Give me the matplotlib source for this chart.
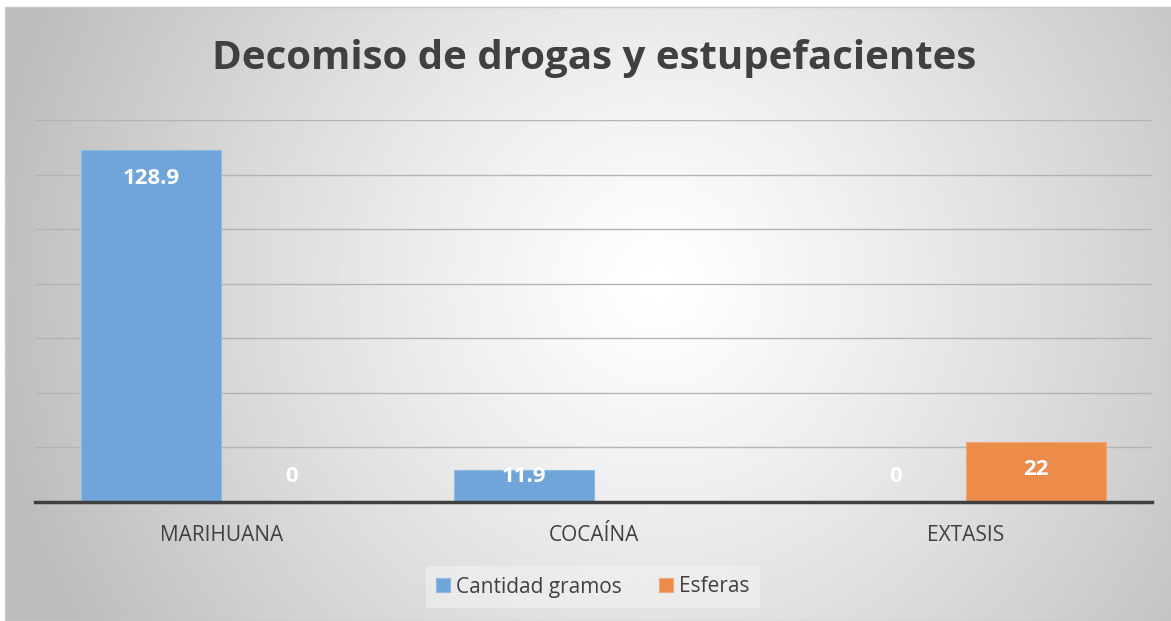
import numpy as np
import matplotlib.pyplot as plt
from matplotlib.patches import Rectangle

# datos del grafico
categorias = ['MARIHUANA', 'COCAÍNA', 'EXTASIS']
cantidad_gramos = [128.9, 11.9, 0]
esferas = [0, np.nan, 22]
series = ['Cantidad gramos', 'Esferas']

azul = '#6fa5d8'
naranja = '#ec8b4a'
gris_texto = '#404040'

plt.rcParams['font.family'] = ['Open Sans', 'DejaVu Sans']

fig = plt.figure(figsize=(11.71, 6.21), dpi=100)
W, H = 1171, 621

# fondo con degradado radial
bg = fig.add_axes([5 / W, 0, 1 - 5 / W, 1 - 7 / H], zorder=-10)
yy, xx = np.mgrid[0:1:300j, 0:1:560j]
d = np.sqrt(((xx - 0.56) * 1.9) ** 2 + ((yy - 0.55) * 1.0) ** 2)
val = 1 - 0.26 * np.clip(d / 1.1, 0, 1) ** 1.2
bg.imshow(val, cmap='gray', vmin=0, vmax=1, extent=[0, 1, 0, 1], aspect='auto', origin='lower')
bg.set_axis_off()
fig.add_artist(Rectangle((5 / W, 0), 1 - 5 / W, 1 - 7 / H, transform=fig.transFigure,
                         fill=False, edgecolor='#c8c8c8', lw=1))

ax = fig.add_axes([35 / W, (H - 502) / H, 1117 / W, 382 / H])
ax.patch.set_alpha(0)
x = np.arange(len(categorias))
w = 0.376
b1 = ax.bar(x - w / 2, cantidad_gramos, w, color=azul, edgecolor='#8dbbe6', lw=0.8, label=series[0], zorder=2)
b2 = ax.bar(x + w / 2, esferas, w, color=naranja, edgecolor='#f2a877', lw=0.8, label=series[1], zorder=2)

ax.set_xlim(-0.5, 2.5)
ax.set_ylim(0, 140)
ax.set_yticks(np.arange(0, 141, 20))
ax.yaxis.grid(True, color='#b4b4b4', lw=1)
ax.set_axisbelow(True)
ax.tick_params(axis='y', left=False, labelleft=False)
ax.tick_params(axis='x', bottom=False, pad=13)
ax.set_xticks(x)
ax.set_xticklabels(categorias, fontsize=15, color=gris_texto)
for s in ['top', 'right', 'left']:
    ax.spines[s].set_visible(False)
ax.spines['bottom'].set_color('#404040')
ax.spines['bottom'].set_linewidth(2.5)
ax.spines['bottom'].set_zorder(3)

# etiquetas de datos
for xs, vals in [(x - w / 2, cantidad_gramos), (x + w / 2, esferas)]:
    for xi, v in zip(xs, vals):
        if np.isnan(v):
            continue
        txt = f'{v:g}'
        if v < 19:
            ax.annotate(txt, (xi, 0), xytext=(0, 18), textcoords='offset points',
                        ha='center', va='center', color='white', fontsize=16, fontweight='bold', zorder=4)
        else:
            ax.annotate(txt, (xi, v), xytext=(0, -20), textcoords='offset points',
                        ha='center', va='center', color='white', fontsize=16, fontweight='bold', zorder=4)

fig.text(594 / W, 1 - 58 / H, 'Decomiso de drogas y estupefacientes', ha='center', va='center',
         fontsize=29, fontweight='bold', color=gris_texto)

leg = fig.legend(loc='center', bbox_to_anchor=(593 / W, 1 - 587 / H), ncol=2, frameon=True,
                 fontsize=15, handlelength=0.65, handleheight=0.65, handletextpad=0.3,
                 columnspacing=1.8, borderpad=0.5, fancybox=False)
leg.get_frame().set_facecolor('#f2f2f2')
leg.get_frame().set_edgecolor('none')
leg.get_frame().set_alpha(0.6)
for t in leg.get_texts():
    t.set_color(gris_texto)

fig.savefig('out.png', dpi=100)
